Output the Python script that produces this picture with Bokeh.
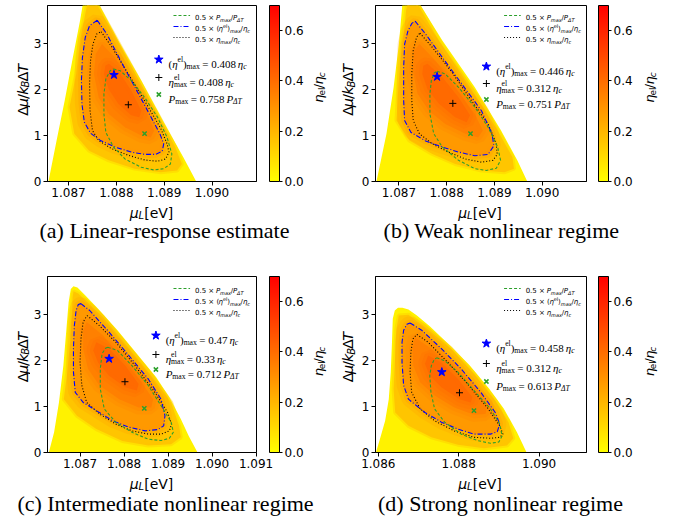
import numpy as np
from bokeh.plotting import figure
from bokeh.models import Range1d, FixedTicker, PrintfTickFormatter, Label, LinearColorMapper, ColorBar
from bokeh.layouts import row, column
from bokeh.embed import file_html
from bokeh.resources import INLINE

# ---------------- data ----------------
ticks_ab = [1.087, 1.088, 1.089, 1.090]
ticks_c = [1.087, 1.088, 1.089, 1.090, 1.091]
ticks_d = [1.086, 1.088, 1.090]
y_ticks = [0, 1, 2, 3]
cbar_ticks = [0.0, 0.2, 0.4, 0.6]
# estimated eta_el/eta_c value of each filled band (region, ~0.1, ~0.2, ~0.3, ~0.37 contours)
band_levels = [0.035, 0.16, 0.28, 0.35, 0.41]

captions = ["(a) Linear-response estimate", "(b) Weak nonlinear regime",
            "(c) Intermediate nonlinear regime", "(d) Strong nonlinear regime"]
eta_el_max = ["0.408", "0.446", "0.47", "0.458"]
eta_max = ["0.408", "0.312", "0.33", "0.312"]
p_max = ["0.758", "0.751", "0.712", "0.613"]

# ----- panel (a)
a_reg_mu = [1.08658, 1.08675, 1.08692, 1.08709, 1.08724, 1.08731, 1.08744, 1.08760, 1.08804, 1.08852, 1.08899, 1.08940, 1.08967]
a_reg_dmu = [0.0, 0.89, 1.76, 2.70, 3.50, 3.93, 4.04, 3.93, 3.07, 2.20, 1.29, 0.53, 0.0]
a_l1_mu = [1.08740, 1.08757, 1.08794, 1.08838, 1.08886, 1.08923, 1.08937, 1.08927, 1.08893, 1.08838, 1.08784, 1.08743, 1.08712, 1.08702, 1.08716, 1.08724, 1.08735]
a_l1_dmu = [3.90, 3.90, 3.21, 2.38, 1.47, 0.75, 0.38, 0.24, 0.20, 0.28, 0.46, 0.67, 1.04, 1.62, 2.34, 3.07, 3.65]
a_el_mu = [1.08760, 1.08780, 1.08816, 1.08854, 1.08891, 1.08899, 1.08896, 1.08882, 1.08859, 1.08831, 1.08797, 1.08767, 1.08746, 1.08733, 1.08728, 1.08727, 1.08729, 1.08735, 1.08744]
a_el_dmu = [3.51, 3.21, 2.49, 1.76, 1.04, 0.82, 0.66, 0.59, 0.59, 0.64, 0.75, 0.89, 1.05, 1.29, 1.69, 2.20, 2.70, 3.14, 3.39]
a_l3_mu = [1.08770, 1.08797, 1.08831, 1.08865, 1.08879, 1.08872, 1.08852, 1.08818, 1.08784, 1.08763, 1.08753, 1.08757]
a_l3_dmu = [2.99, 2.70, 2.12, 1.47, 1.11, 0.96, 1.00, 1.18, 1.47, 1.83, 2.34, 2.78]
a_l4_mu = [1.08784, 1.08804, 1.08831, 1.08852, 1.08848, 1.08831, 1.08804, 1.08784, 1.08774, 1.08777]
a_l4_dmu = [2.56, 2.41, 1.98, 1.54, 1.40, 1.44, 1.69, 2.01, 2.34, 2.52]
a_eta_mu = [1.08768, 1.08791, 1.08825, 1.08859, 1.08893, 1.08906, 1.08910, 1.08903, 1.08886, 1.08859, 1.08825, 1.08791, 1.08763, 1.08750, 1.08745, 1.08744, 1.08746, 1.08751, 1.08759]
a_eta_dmu = [3.26, 2.92, 2.34, 1.76, 1.15, 0.82, 0.64, 0.49, 0.44, 0.47, 0.57, 0.71, 0.89, 1.11, 1.54, 2.12, 2.63, 2.99, 3.21]
a_pow_mu = [1.08794, 1.08808, 1.08831, 1.08859, 1.08886, 1.08906, 1.08916, 1.08913, 1.08899, 1.08879, 1.08852, 1.08818, 1.08794, 1.08778, 1.08774, 1.08774, 1.08778, 1.08787]
a_pow_dmu = [2.45, 2.41, 2.20, 1.83, 1.40, 0.96, 0.60, 0.38, 0.28, 0.25, 0.31, 0.49, 0.75, 1.07, 1.47, 1.91, 2.23, 2.41]
a_opt_mu = [1.08795, 1.08825, 1.08859]
a_opt_dmu = [2.32, 1.67, 1.04]

# ----- panel (b)
b_reg_mu = [1.08653, 1.08674, 1.08689, 1.08700, 1.08707, 1.08710, 1.08725, 1.08739, 1.08791, 1.08859, 1.08914, 1.08948, 1.08969]
b_reg_dmu = [0.0, 1.04, 2.05, 2.99, 3.83, 4.01, 4.08, 3.94, 3.07, 2.05, 1.11, 0.46, 0.0]
b_l1_mu = [1.08719, 1.08737, 1.08784, 1.08852, 1.08907, 1.08938, 1.08941, 1.08921, 1.08873, 1.08818, 1.08770, 1.08722, 1.08695, 1.08698, 1.08703, 1.08711, 1.08715]
b_l1_dmu = [3.90, 3.90, 3.07, 2.01, 1.11, 0.53, 0.28, 0.20, 0.24, 0.38, 0.60, 0.89, 1.33, 1.91, 2.63, 3.28, 3.72]
b_el_mu = [1.08734, 1.08756, 1.08791, 1.08832, 1.08873, 1.08895, 1.08899, 1.08887, 1.08859, 1.08825, 1.08791, 1.08756, 1.08725, 1.08712, 1.08710, 1.08710, 1.08712, 1.08719, 1.08727]
b_el_dmu = [3.49, 3.21, 2.70, 2.12, 1.54, 1.04, 0.78, 0.59, 0.56, 0.64, 0.75, 0.88, 1.07, 1.33, 1.76, 2.49, 2.99, 3.28, 3.44]
b_l3_mu = [1.08743, 1.08777, 1.08818, 1.08859, 1.08876, 1.08866, 1.08839, 1.08797, 1.08763, 1.08739, 1.08729, 1.08732]
b_l3_dmu = [2.99, 2.63, 2.05, 1.47, 1.11, 0.96, 1.04, 1.25, 1.54, 1.91, 2.41, 2.85]
b_l4_mu = [1.08760, 1.08791, 1.08825, 1.08849, 1.08842, 1.08818, 1.08784, 1.08760, 1.08749, 1.08751]
b_l4_dmu = [2.56, 2.27, 1.83, 1.44, 1.29, 1.40, 1.69, 2.01, 2.34, 2.52]
b_eta_mu = [1.08744, 1.08770, 1.08811, 1.08852, 1.08887, 1.08904, 1.08906, 1.08897, 1.08873, 1.08839, 1.08804, 1.08770, 1.08743, 1.08730, 1.08727, 1.08727, 1.08730, 1.08737]
b_eta_dmu = [3.23, 2.92, 2.38, 1.76, 1.25, 0.82, 0.59, 0.46, 0.42, 0.49, 0.64, 0.82, 1.04, 1.33, 1.76, 2.34, 2.85, 3.14]
b_pow_mu = [1.08780, 1.08797, 1.08825, 1.08859, 1.08887, 1.08907, 1.08913, 1.08904, 1.08883, 1.08859, 1.08825, 1.08791, 1.08773, 1.08765, 1.08765, 1.08768, 1.08774]
b_pow_dmu = [2.40, 2.34, 2.05, 1.62, 1.18, 0.75, 0.46, 0.29, 0.24, 0.28, 0.46, 0.75, 1.04, 1.47, 1.91, 2.20, 2.36]
b_opt_mu = [1.08780, 1.08813, 1.08850]
b_opt_dmu = [2.28, 1.70, 1.04]

# ----- panel (c)
c_reg_mu = [1.08629, 1.08641, 1.08652, 1.08662, 1.08669, 1.08674, 1.08679, 1.08685, 1.08694, 1.08711, 1.08741, 1.08785, 1.08829, 1.08873, 1.08903, 1.08929, 1.08947, 1.08967]
c_reg_dmu = [0.0, 0.44, 1.09, 1.89, 2.69, 3.27, 3.56, 3.62, 3.59, 3.43, 3.13, 2.66, 2.15, 1.64, 1.20, 0.73, 0.36, 0.0]
c_l1_mu = [1.08685, 1.08696, 1.08752, 1.08803, 1.08859, 1.08907, 1.08925, 1.08929, 1.08907, 1.08855, 1.08796, 1.08737, 1.08693, 1.08663, 1.08671, 1.08678, 1.08682, 1.08683]
c_l1_dmu = [3.51, 3.46, 2.95, 2.36, 1.71, 1.09, 0.58, 0.33, 0.18, 0.15, 0.25, 0.51, 0.80, 1.16, 1.75, 2.47, 3.13, 3.38]
c_el_mu = [1.08702, 1.08722, 1.08766, 1.08811, 1.08855, 1.08884, 1.08893, 1.08890, 1.08877, 1.08848, 1.08811, 1.08774, 1.08737, 1.08707, 1.08689, 1.08685, 1.08685, 1.08687, 1.08691, 1.08696]
c_el_dmu = [3.24, 3.09, 2.62, 2.11, 1.60, 1.16, 0.80, 0.58, 0.50, 0.47, 0.55, 0.69, 0.91, 1.09, 1.31, 1.75, 2.26, 2.76, 3.09, 3.22]
c_l3_mu = [1.08715, 1.08752, 1.08796, 1.08840, 1.08866, 1.08862, 1.08833, 1.08789, 1.08744, 1.08718, 1.08707, 1.08707]
c_l3_dmu = [2.84, 2.55, 2.04, 1.53, 1.16, 0.98, 0.98, 1.16, 1.46, 1.82, 2.26, 2.66]
c_l4_mu = [1.08737, 1.08766, 1.08803, 1.08833, 1.08829, 1.08803, 1.08766, 1.08741, 1.08730]
c_l4_dmu = [2.40, 2.26, 1.89, 1.49, 1.35, 1.42, 1.67, 1.96, 2.22]
c_eta_mu = [1.08716, 1.08744, 1.08781, 1.08825, 1.08870, 1.08899, 1.08908, 1.08903, 1.08884, 1.08855, 1.08818, 1.08781, 1.08744, 1.08715, 1.08704, 1.08700, 1.08702, 1.08707]
c_eta_dmu = [2.98, 2.76, 2.40, 1.89, 1.31, 0.87, 0.62, 0.47, 0.40, 0.40, 0.47, 0.62, 0.84, 1.09, 1.46, 1.96, 2.47, 2.84]
c_pow_mu = [1.08763, 1.08785, 1.08818, 1.08855, 1.08884, 1.08907, 1.08912, 1.08903, 1.08884, 1.08855, 1.08818, 1.08781, 1.08755, 1.08746, 1.08746, 1.08750, 1.08758]
c_pow_dmu = [2.29, 2.22, 1.89, 1.46, 1.02, 0.66, 0.44, 0.31, 0.26, 0.29, 0.44, 0.66, 0.95, 1.38, 1.82, 2.15, 2.27]
c_opt_mu = [1.08766, 1.08802, 1.08846]
c_opt_dmu = [2.04, 1.54, 0.96]

# ----- panel (d)
d_reg_mu = [1.08594, 1.08603, 1.08617, 1.08626, 1.08631, 1.08634, 1.08636, 1.08641, 1.08649, 1.08660, 1.08675, 1.08696, 1.08728, 1.08777, 1.08826, 1.08875, 1.08912, 1.08945, 1.08969]
d_reg_dmu = [0.0, 0.26, 0.69, 1.16, 1.75, 2.40, 2.91, 3.09, 3.15, 3.15, 3.11, 2.98, 2.75, 2.34, 1.91, 1.40, 0.96, 0.44, 0.0]
d_l1_mu = [1.08651, 1.08675, 1.08716, 1.08781, 1.08838, 1.08891, 1.08924, 1.08936, 1.08920, 1.08863, 1.08798, 1.08732, 1.08675, 1.08642, 1.08638, 1.08642, 1.08645]
d_l1_dmu = [2.98, 3.00, 2.73, 2.26, 1.71, 1.13, 0.66, 0.31, 0.15, 0.09, 0.17, 0.33, 0.58, 0.87, 1.38, 2.11, 2.69]
d_el_mu = [1.08679, 1.08708, 1.08757, 1.08806, 1.08855, 1.08891, 1.08902, 1.08896, 1.08879, 1.08838, 1.08798, 1.08757, 1.08716, 1.08675, 1.08663, 1.08659, 1.08659, 1.08663, 1.08671]
d_el_dmu = [2.82, 2.66, 2.26, 1.82, 1.31, 0.87, 0.62, 0.45, 0.40, 0.40, 0.51, 0.66, 0.87, 1.16, 1.46, 1.96, 2.40, 2.66, 2.79]
d_l3_mu = [1.08691, 1.08732, 1.08781, 1.08830, 1.08871, 1.08867, 1.08838, 1.08789, 1.08740, 1.08704, 1.08687, 1.08685]
d_l3_dmu = [2.51, 2.26, 1.82, 1.38, 1.02, 0.84, 0.82, 0.98, 1.24, 1.53, 1.89, 2.26]
d_l4_mu = [1.08724, 1.08757, 1.08798, 1.08834, 1.08830, 1.08802, 1.08757, 1.08728, 1.08716]
d_l4_dmu = [2.11, 1.96, 1.60, 1.20, 1.09, 1.16, 1.42, 1.67, 1.93]
d_eta_mu = [1.08696, 1.08724, 1.08773, 1.08822, 1.08871, 1.08902, 1.08910, 1.08902, 1.08879, 1.08838, 1.08789, 1.08740, 1.08704, 1.08683, 1.08679, 1.08681, 1.08686]
d_eta_dmu = [2.57, 2.40, 1.96, 1.49, 0.98, 0.58, 0.40, 0.33, 0.31, 0.33, 0.47, 0.69, 0.95, 1.31, 1.75, 2.18, 2.47]
d_pow_mu = [1.08745, 1.08765, 1.08798, 1.08838, 1.08879, 1.08902, 1.08908, 1.08900, 1.08879, 1.08847, 1.08806, 1.08765, 1.08740, 1.08731, 1.08728, 1.08732, 1.08739]
d_pow_dmu = [2.06, 2.00, 1.75, 1.35, 0.95, 0.62, 0.36, 0.23, 0.20, 0.26, 0.40, 0.66, 0.95, 1.31, 1.67, 1.89, 2.02]
d_opt_mu = [1.08758, 1.08802, 1.08838]
d_opt_dmu = [1.75, 1.30, 0.91]

# ---------------- styling helpers ----------------
SANS = "DejaVu Sans"
SERIF = "Liberation Serif"
Y_LO, Y_HI = 0.0, 3.83
CB_HIGH = 0.7
FH = 176
AUTUMN_R = ["#ff%02x00" % (255 - i) for i in range(256)]
GREEN = "#2ca02c"
DASH_P = "3 2"
DASH_EL = "5 2 1 2"
DASH_ETA = "1 2"


def autumn_r(v):
    return "#ff%02x00" % int(round(255 * (1 - v / CB_HIGH)))


W_SANS = {c: 0.636 for c in "0123456789"}
W_SANS.update({".": 0.318, " ": 0.318, "×": 0.838, "(": 0.390, ")": 0.390, "[": 0.390, "]": 0.390,
               "/": 0.337, "P": 0.603, "T": 0.611, "Δ": 0.684, "μ": 0.636, "η": 0.634, "k": 0.579,
               "B": 0.686, "L": 0.557, "e": 0.615, "V": 0.684, "l": 0.278, "c": 0.550, "m": 0.974,
               "a": 0.613, "x": 0.592})
W_SERIF = {c: 0.5 for c in "0123456789"}
W_SERIF.update({".": 0.25, " ": 0.25, "=": 0.564, "(": 0.333, ")": 0.333, "η": 0.5, "e": 0.444,
                "l": 0.278, "m": 0.778, "a": 0.444, "x": 0.5, "c": 0.444, "P": 0.611, "Δ": 0.612,
                "T": 0.611})


def text_width(s, size, fam):
    tbl = W_SANS if fam == "sans" else W_SERIF
    return sum(tbl.get(ch, 0.55) for ch in s) * size


def seg(t, size, fam="sans", style="normal", dy=0.0, adv=True):
    return (t, size, fam, style, dy, adv)


def rich(p, conv, rx, ry, segs, align="left", rotated=False, color="black"):
    """Place a run of text pieces; rx, ry in pixels (y downward) mapped by conv."""
    total = sum(text_width(t, s, f) for (t, s, f, st, dy, adv) in segs if adv)
    pos = -total / 2 if align == "center" else 0.0
    for t, s, f, st, dy, adv in segs:
        start = pos
        lead = len(t) - len(t.lstrip(" "))
        core = t.strip(" ")
        start += text_width(" " * lead, s, f)
        if rotated:
            sx, sy = rx - dy, ry - start
        else:
            sx, sy = rx + start, ry - dy
        x, y = conv(sx, sy)
        p.add_layout(Label(x=x, y=y, text=core, text_font=SANS if f == "sans" else SERIF,
                           text_font_size=f"{s}px", text_font_style=st, text_color=color,
                           text_align="left", text_baseline="alphabetic",
                           angle=(np.pi / 2 if rotated else 0.0)))
        if adv:
            pos += text_width(t, s, f)


def closed(a):
    return list(a) + [a[0]]


def style_axis(ax, ticks, fmt):
    ax.ticker = FixedTicker(ticks=ticks)
    ax.formatter = PrintfTickFormatter(format=fmt)
    ax.major_label_text_font = SANS
    ax.major_label_text_font_size = "12px"
    ax.major_label_text_color = "black"
    ax.major_tick_out = 4
    ax.major_tick_in = 0
    ax.minor_tick_out = 0
    ax.minor_tick_in = 0
    ax.major_label_standoff = 2
    ax.axis_line_color = "black"
    ax.major_tick_line_color = "black"
    ax.axis_label = None


def text_fig(W, H, ox, oy):
    f = figure(width=W, height=H, x_range=Range1d(0, W), y_range=Range1d(0, H),
               output_backend="svg", toolbar_location=None,
               x_axis_location=None, y_axis_location=None, min_border=0)
    f.outline_line_color = None
    f.background_fill_color = "white"
    f.border_fill_color = "white"
    f.grid.visible = False

    def conv(px, py):  # page pixel coords -> figure coords
        return px - ox, H - (py - oy)
    return f, conv


# page geometry (pixels)
COLS = [dict(ylab=(0, 30), main=(30, 276), cblab=(306, 30), bottom=(0, 336), ylab_x=22, cblab_x=318,
             frame_left=44, cb_off=13),
        dict(ylab=(336, 22), main=(358, 277), cblab=(635, 40), bottom=(336, 339), ylab_x=347.5, cblab_x=649,
             frame_left=372, cb_off=12)]
ROWS = [dict(oy=0, H=201, top=5, bot_oy=201, bot_H=63, xlab_y=212, cap_y=230, ylab_cy=97),
        dict(oy=264, H=208, top=12, bot_oy=472, bot_H=44, xlab_y=483, cap_y=503, ylab_cy=360)]


def make_panel(P, i):
    C = COLS[i % 2]
    R = ROWS[i // 2]
    fw = P["fw"]
    x0, x1 = P["xr"]
    mw = C["main"][1]
    p = figure(width=mw, height=R["H"], x_range=Range1d(x0, x1), y_range=Range1d(Y_LO, Y_HI),
               output_backend="svg", toolbar_location=None,
               min_border_left=14, min_border_right=mw - 14 - fw,
               min_border_top=R["top"], min_border_bottom=R["H"] - R["top"] - FH)
    p.grid.visible = False
    p.outline_line_color = "black"
    p.outline_line_width = 1
    p.outline_line_alpha = 1
    p.background_fill_color = "white"
    p.border_fill_color = "white"
    style_axis(p.xaxis[0], P["ticks"], "%.3f")
    style_axis(p.yaxis[0], y_ticks, "%d")

    def conv(rx, ry):  # pixels relative to the frame's top-left corner -> data
        return x0 + rx / fw * (x1 - x0), Y_HI - ry / FH * (Y_HI - Y_LO)

    # filled efficiency bands (soft edges: translucent strokes of the band colour)
    for key, lev, soft in (("reg", band_levels[0], 0), ("l1", band_levels[1], 1),
                           ("el", band_levels[2], 2), ("l3", band_levels[3], 2),
                           ("l4", band_levels[4], 2)):
        xs, ys = P[key]
        c = autumn_r(lev)
        if soft == 0:
            p.patch(xs, ys, fill_color=c, line_color=None)
        elif soft == 1:
            p.patch(xs, ys, fill_color=c, line_color=c, line_alpha=0.4, line_width=4)
        else:
            p.patch(xs, ys, fill_color=None, line_color=c, line_alpha=0.22, line_width=14)
            p.patch(xs, ys, fill_color=c, line_color=c, line_alpha=0.3, line_width=7)

    # contour lines
    xs, ys = P["eta"]
    p.line(closed(xs), closed(ys), line_color="black", line_dash=DASH_ETA, line_width=1.1)
    xs, ys = P["el"]
    p.line(closed(xs), closed(ys), line_color="blue", line_dash=DASH_EL, line_width=1.1)
    xs, ys = P["pow"]
    p.line(closed(xs), closed(ys), line_color=GREEN, line_dash=DASH_P, line_width=1.1)

    # optimum markers
    ox, oy = P["opt"]
    p.scatter([ox[0]], [oy[0]], marker="star", size=9, fill_color="blue", line_color="blue")
    p.scatter([ox[1]], [oy[1]], marker="cross", size=7, line_color="black", line_width=1)
    p.scatter([ox[2]], [oy[2]], marker="x", size=6, line_color=GREEN, line_width=1.5)

    # small legend of contour lines
    lx = P["leg_x"]
    leg_texts = [
        [seg("0.5 × ", 7), seg("P", 7, style="italic"), seg("max", 5, style="italic", dy=-1.5), seg("/", 7),
         seg("P", 7, style="italic"), seg("ΔT", 5, style="italic", dy=-1.5)],
        [seg("0.5 × (", 7), seg("η", 7, style="italic"), seg("el", 5, dy=2.8), seg(")", 7),
         seg("max", 5, style="italic", dy=-1.5), seg("/", 7), seg("η", 7, style="italic"),
         seg("c", 5, style="italic", dy=-1.5)],
        [seg("0.5 × ", 7), seg("η", 7, style="italic"), seg("max", 5, style="italic", dy=-1.5), seg("/", 7),
         seg("η", 7, style="italic"), seg("c", 5, style="italic", dy=-1.5)],
    ]
    for (col, dash), ry, segs in zip(((GREEN, DASH_P), ("blue", DASH_EL), ("black", DASH_ETA)),
                                     P["leg_rows"], leg_texts):
        xa_, ya_ = conv(lx, ry)
        xb_, yb_ = conv(lx + 17, ry)
        p.line([xa_, xb_], [ya_, yb_], line_color=col, line_dash=dash, line_width=1.1)
        rich(p, conv, lx + 22, ry + 2.5, segs)

    # annotation of the optima
    ax_ = P["ann_x"]
    r = P["ann_rows"]
    mx, my = conv(ax_, r[0])
    p.scatter([mx], [my], marker="star", size=9, fill_color="blue", line_color="blue")
    mx, my = conv(ax_, r[1])
    p.scatter([mx], [my], marker="cross", size=7, line_color="black", line_width=1)
    mx, my = conv(ax_, r[2])
    p.scatter([mx], [my], marker="x", size=6, line_color=GREEN, line_width=1.5)
    S, s = 11, 7.7
    tx = ax_ + 10
    rich(p, conv, tx, r[0] + 4, [seg("(", S, "serif"), seg("η", S, "serif", "italic"),
                                 seg("el", s, "serif", dy=4.2), seg(")", S, "serif"),
                                 seg("max", s, "serif", dy=-2.5),
                                 seg(" = " + eta_el_max[i] + " ", S, "serif"),
                                 seg("η", S, "serif", "italic"), seg("c", s, "serif", "italic", dy=-2.5)])
    rich(p, conv, tx, r[1] + 4, [seg("η", S, "serif", "italic"), seg("el", s, "serif", dy=4.2, adv=False),
                                 seg("max", s, "serif", dy=-2.8),
                                 seg(" = " + eta_max[i] + " ", S, "serif"),
                                 seg("η", S, "serif", "italic"), seg("c", s, "serif", "italic", dy=-2.5)])
    rich(p, conv, tx, r[2] + 4, [seg("P", S, "serif", "italic"), seg("max", s, "serif", dy=-2.5),
                                 seg(" = " + p_max[i] + " ", S, "serif"),
                                 seg("P", S, "serif", "italic"), seg("ΔT", s, "serif", "italic", dy=-2.5)])

    # colour bar
    mapper = LinearColorMapper(palette=AUTUMN_R, low=0.0, high=CB_HIGH)
    cb = ColorBar(color_mapper=mapper, location=(C["cb_off"], 0), width=10, height=FH, padding=0, margin=0,
                  ticker=FixedTicker(ticks=cbar_ticks), formatter=PrintfTickFormatter(format="%.1f"),
                  major_label_text_font=SANS, major_label_text_font_size="12px",
                  major_label_text_color="black", major_tick_out=3, major_tick_in=0,
                  major_tick_line_color="black", minor_tick_line_color=None,
                  bar_line_color="black", background_fill_alpha=0, border_line_color=None,
                  label_standoff=2)
    p.add_layout(cb, "right")

    # ---- texts outside the frame live in their own small figures ----
    frame_top = R["oy"] + R["top"]
    # y axis label
    yl, yconv = text_fig(C["ylab"][1], R["H"], C["ylab"][0], R["oy"])
    rich(yl, yconv, C["ylab_x"], R["ylab_cy"], [seg("Δ", 14.5), seg("μ", 14.5, style="italic"), seg("/", 14.5),
                                                seg("k", 14.5, style="italic"),
                                                seg("B", 10, style="italic", dy=-3.2),
                                                seg("Δ", 14.5), seg("T", 14.5, style="italic")],
         align="center", rotated=True)
    # colour bar label
    cl, cconv = text_fig(C["cblab"][1], R["H"], C["cblab"][0], R["oy"])
    rich(cl, cconv, C["cblab_x"], frame_top + 89, [seg("η", 13, style="italic"), seg("el", 9, dy=-3),
                                                   seg("/", 13), seg("η", 13, style="italic"),
                                                   seg("c", 9, style="italic", dy=-3)],
         align="center", rotated=True)
    # x axis label and caption
    bt, bconv = text_fig(C["bottom"][1], R["bot_H"], C["bottom"][0], R["bot_oy"])
    fc = C["frame_left"] + fw / 2
    rich(bt, bconv, fc, R["xlab_y"], [seg("μ", 14, style="italic"), seg("L", 10, style="italic", dy=-3),
                                      seg("[eV]", 14)], align="center")
    cx, cy = bconv(P["cap_x"], R["cap_y"])
    bt.add_layout(Label(x=cx, y=cy, text=captions[i], text_font=SERIF, text_font_size="22px",
                        text_align="center", text_baseline="alphabetic", text_color="black"))
    return yl, p, cl, bt


panels = [
    dict(xr=(1.08656, 1.09093), fw=214, ticks=ticks_ab,
         reg=(a_reg_mu, a_reg_dmu), l1=(a_l1_mu, a_l1_dmu), el=(a_el_mu, a_el_dmu),
         l3=(a_l3_mu, a_l3_dmu), l4=(a_l4_mu, a_l4_dmu), eta=(a_eta_mu, a_eta_dmu),
         pow=(a_pow_mu, a_pow_dmu), opt=(a_opt_mu, a_opt_dmu),
         cap_x=164, leg_x=129, leg_rows=[10, 21, 32], ann_x=114, ann_rows=[54, 72, 89]),
    dict(xr=(1.08651, 1.09093), fw=215, ticks=ticks_ab,
         reg=(b_reg_mu, b_reg_dmu), l1=(b_l1_mu, b_l1_dmu), el=(b_el_mu, b_el_dmu),
         l3=(b_l3_mu, b_l3_dmu), l4=(b_l4_mu, b_l4_dmu), eta=(b_eta_mu, b_eta_dmu),
         pow=(b_pow_mu, b_pow_dmu), opt=(b_opt_mu, b_opt_dmu),
         cap_x=501, leg_x=131, leg_rows=[10, 21, 32], ann_x=113, ann_rows=[61, 78, 94]),
    dict(xr=(1.08626, 1.09101), fw=214, ticks=ticks_c,
         reg=(c_reg_mu, c_reg_dmu), l1=(c_l1_mu, c_l1_dmu), el=(c_el_mu, c_el_dmu),
         l3=(c_l3_mu, c_l3_dmu), l4=(c_l4_mu, c_l4_dmu), eta=(c_eta_mu, c_eta_dmu),
         pow=(c_pow_mu, c_pow_dmu), opt=(c_opt_mu, c_opt_dmu),
         cap_x=165, leg_x=129, leg_rows=[12, 23, 34], ann_x=111, ann_rows=[59, 78, 93]),
    dict(xr=(1.08593, 1.09118), fw=215, ticks=ticks_d,
         reg=(d_reg_mu, d_reg_dmu), l1=(d_l1_mu, d_l1_dmu), el=(d_el_mu, d_el_dmu),
         l3=(d_l3_mu, d_l3_dmu), l4=(d_l4_mu, d_l4_dmu), eta=(d_eta_mu, d_eta_dmu),
         pow=(d_pow_mu, d_pow_dmu), opt=(d_opt_mu, d_opt_dmu),
         cap_x=500, leg_x=131, leg_rows=[12, 23, 34], ann_x=113, ann_rows=[67, 87, 105]),
]

parts = [make_panel(P, i) for i, P in enumerate(panels)]
(ya, pa, ca, ba), (yb, pb, cbb, bb), (yc, pc, cc, bc), (yd, pd, cd, bd) = parts
layout = column(row(ya, pa, ca, yb, pb, cbb), row(ba, bb),
                row(yc, pc, cc, yd, pd, cd), row(bc, bd))
open("out.html", "w").write(file_html(layout, INLINE))
